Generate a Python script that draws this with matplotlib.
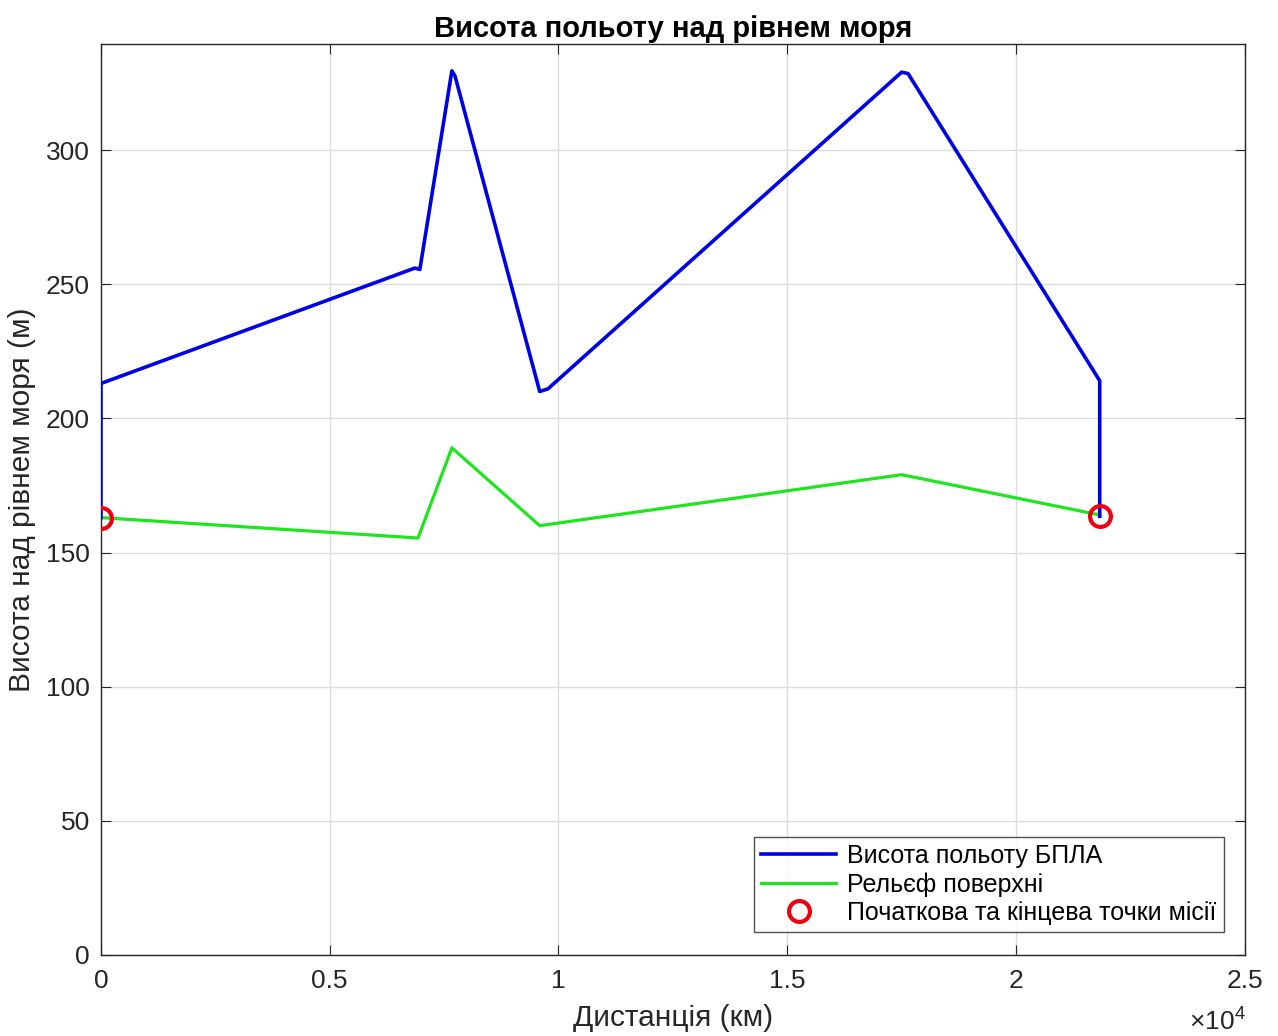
import matplotlib.pyplot as plt
import numpy as np

plt.rcParams['font.family'] = ['Liberation Sans', 'DejaVu Sans']
plt.rcParams['mathtext.fontset'] = 'custom'
plt.rcParams['mathtext.rm'] = 'Liberation Sans'

# Data (distance in metres, altitude in metres)
uav_x = [0, 0, 6860, 6970, 7670, 7740, 9590, 9770, 17500, 17640, 21830, 21830]
uav_h = [163, 213, 256, 255.5, 329.5, 327.5, 210, 211, 329, 328.5, 214, 163.5]

terrain_x = [0, 6930, 7670, 9590, 17500, 21830]
terrain_h = [163, 155.4, 189, 160, 179, 164]

mission_x = [0, 21830]
mission_h = [163, 163.5]

fig = plt.figure(figsize=(12.78, 10.36), dpi=100)
ax = fig.add_axes([0.079, 0.0782, 0.895, 0.8793])

ax.plot(uav_x, uav_h, color='#0000e6', linewidth=2.6, label='Висота польоту БПЛА', zorder=3)
ax.plot(terrain_x, terrain_h, color='#1ee61e', linewidth=2.3, label='Рельєф поверхні', zorder=2)
ax.plot(mission_x, mission_h, 'o', markerfacecolor='none', markeredgecolor='#ee0010',
        markersize=15, markeredgewidth=3, label='Початкова та кінцева точки місії', zorder=4)

ax.set_xlim(0, 25000)
ax.set_ylim(0, 339.5)
ax.set_xticks(np.arange(0, 25001, 5000))
ax.set_xticklabels(['0', '0.5', '1', '1.5', '2', '2.5'])
ax.set_yticks(np.arange(0, 301, 50))

ax.grid(True, color='#dcdcdc', linewidth=1)
ax.set_axisbelow(True)
ax.tick_params(direction='in', top=True, right=True, labelsize=19, length=7,
               colors='#262626')
ax.tick_params(axis='x', pad=10)
ax.tick_params(axis='y', pad=8)
for s in ax.spines.values():
    s.set_color('#262626')
    s.set_linewidth(1)

ax.set_title('Висота польоту над рівнем моря', fontsize=21, fontweight='bold', pad=5)
ax.set_xlabel('Дистанція (км)', fontsize=21.5, color='#262626', labelpad=8)
ax.set_ylabel('Висота над рівнем моря (м)', fontsize=21.5, color='#262626', labelpad=7)
fig.text(0.930, 0.006, r'×10$^4$', fontsize=19, color='#262626')

leg = ax.legend(loc='lower right', fontsize=18, frameon=True, fancybox=False,
                edgecolor='#262626', handlelength=3.0, handletextpad=0.45,
                borderpad=0.3, labelspacing=0.16, borderaxespad=0,
                bbox_to_anchor=(0.982, 0.025))
leg.get_frame().set_linewidth(1)

fig.savefig('out.png', dpi=100)
